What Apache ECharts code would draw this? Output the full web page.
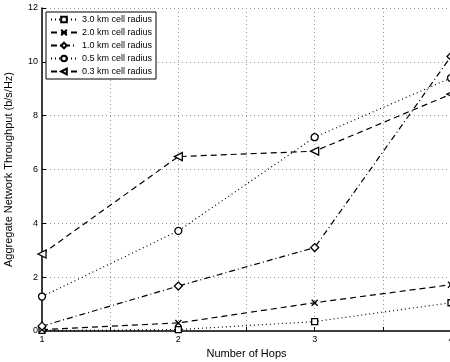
<!DOCTYPE html>
<html>
<head>
<meta charset="utf-8">
<script src="https://cdn.jsdelivr.net/npm/echarts@6/dist/echarts.min.js"></script>
<style>
	html,body{margin:0;padding:0;background:#fff;}
	#chart{width:450px;height:362px;}
</style>
</head>
<body>
<div id="chart"></div>
<script>
// hops
var hops = [1, 2, 3, 4];
// throughput per cell radius
var r30 = [0.02, 0.05, 0.35, 1.05];
var r20 = [0.05, 0.3, 1.05, 1.72];
var r10 = [0.18, 1.67, 3.1, 10.2];
var r05 = [1.28, 3.72, 7.2, 9.4];
var r03 = [2.86, 6.48, 6.68, 8.8];
var names = ['3.0 km cell radius', '2.0 km cell radius', '1.0 km cell radius', '0.5 km cell radius', '0.3 km cell radius'];

function pairs(arr){
	return hops.map(function(h, i){ return [h, arr[i]]; });
}

var font = 'Liberation Sans, Arial, sans-serif';
var markStyle = {color: '#fff', borderColor: '#000', borderWidth: 1.3};

function mkSeries(name, data, symbol, size, dash){
	return {
		name: name,
		type: 'line',
		data: pairs(data),
		symbol: symbol,
		symbolSize: size,
		showAllSymbol: true,
		clip: true,
		lineStyle: {color: '#000', width: 1.2, type: dash},
		itemStyle: markStyle,
		emphasis: {disabled: true}
	};
}

var chart = echarts.init(document.getElementById('chart'));
var option = {
	animation: false,
	backgroundColor: '#fff',
	textStyle: {fontFamily: font},
	grid: {left: 42, top: 8, width: 409, height: 323, containLabel: false, outerBoundsMode: 'none'},
	legend: {
		data: names,
		orient: 'vertical',
		left: 46,
		top: 12,
		itemWidth: 26,
		itemHeight: 7,
		itemGap: 4,
		padding: [3, 4, 3, 4],
		borderColor: '#000',
		borderWidth: 1,
		borderRadius: 0,
		backgroundColor: '#fff',
		textStyle: {fontSize: 9, color: '#000', fontFamily: font}
	},
	xAxis: {
		type: 'value',
		min: 1,
		max: 4,
		interval: 0.5,
		name: 'Number of Hops',
		nameLocation: 'middle',
		nameGap: 16,
		nameTextStyle: {fontSize: 11, color: '#000'},
		axisLine: {lineStyle: {color: '#000', width: 1.5}},
		axisTick: {inside: true, length: 4, lineStyle: {color: '#000'}},
		axisLabel: {
			fontSize: 9, color: '#000', margin: 4,
			formatter: function(v){ return v % 1 === 0 ? String(v) : ''; }
		},
		splitLine: {show: true, lineStyle: {color: '#999', type: [1, 3], width: 1}}
	},
	yAxis: {
		type: 'value',
		min: 0,
		max: 12,
		interval: 2,
		name: 'Aggregate Network Throughput (b/s/Hz)',
		nameLocation: 'middle',
		nameGap: 28,
		nameTextStyle: {fontSize: 11, color: '#000'},
		axisLine: {show: true, lineStyle: {color: '#000', width: 1.5}},
		axisTick: {show: true, inside: true, length: 4, lineStyle: {color: '#000'}},
		axisLabel: {fontSize: 9, color: '#000', margin: 4},
		splitLine: {show: true, lineStyle: {color: '#999', type: [1, 3], width: 1}}
	},
	series: [
		mkSeries(names[0], r30, 'rect', 6, [1, 3]),
		mkSeries(names[1], r20, 'path://M0,0L10,10M10,0L0,10', 6, [6, 4]),
		mkSeries(names[2], r10, 'diamond', 8, [6, 3, 1, 3]),
		mkSeries(names[3], r05, 'circle', 7, [1, 3]),
		mkSeries(names[4], r03, 'path://M0,5L10,0L10,10Z', 8, [6, 4])
	]
};
chart.setOption(option, true);
</script>
</body>
</html>
